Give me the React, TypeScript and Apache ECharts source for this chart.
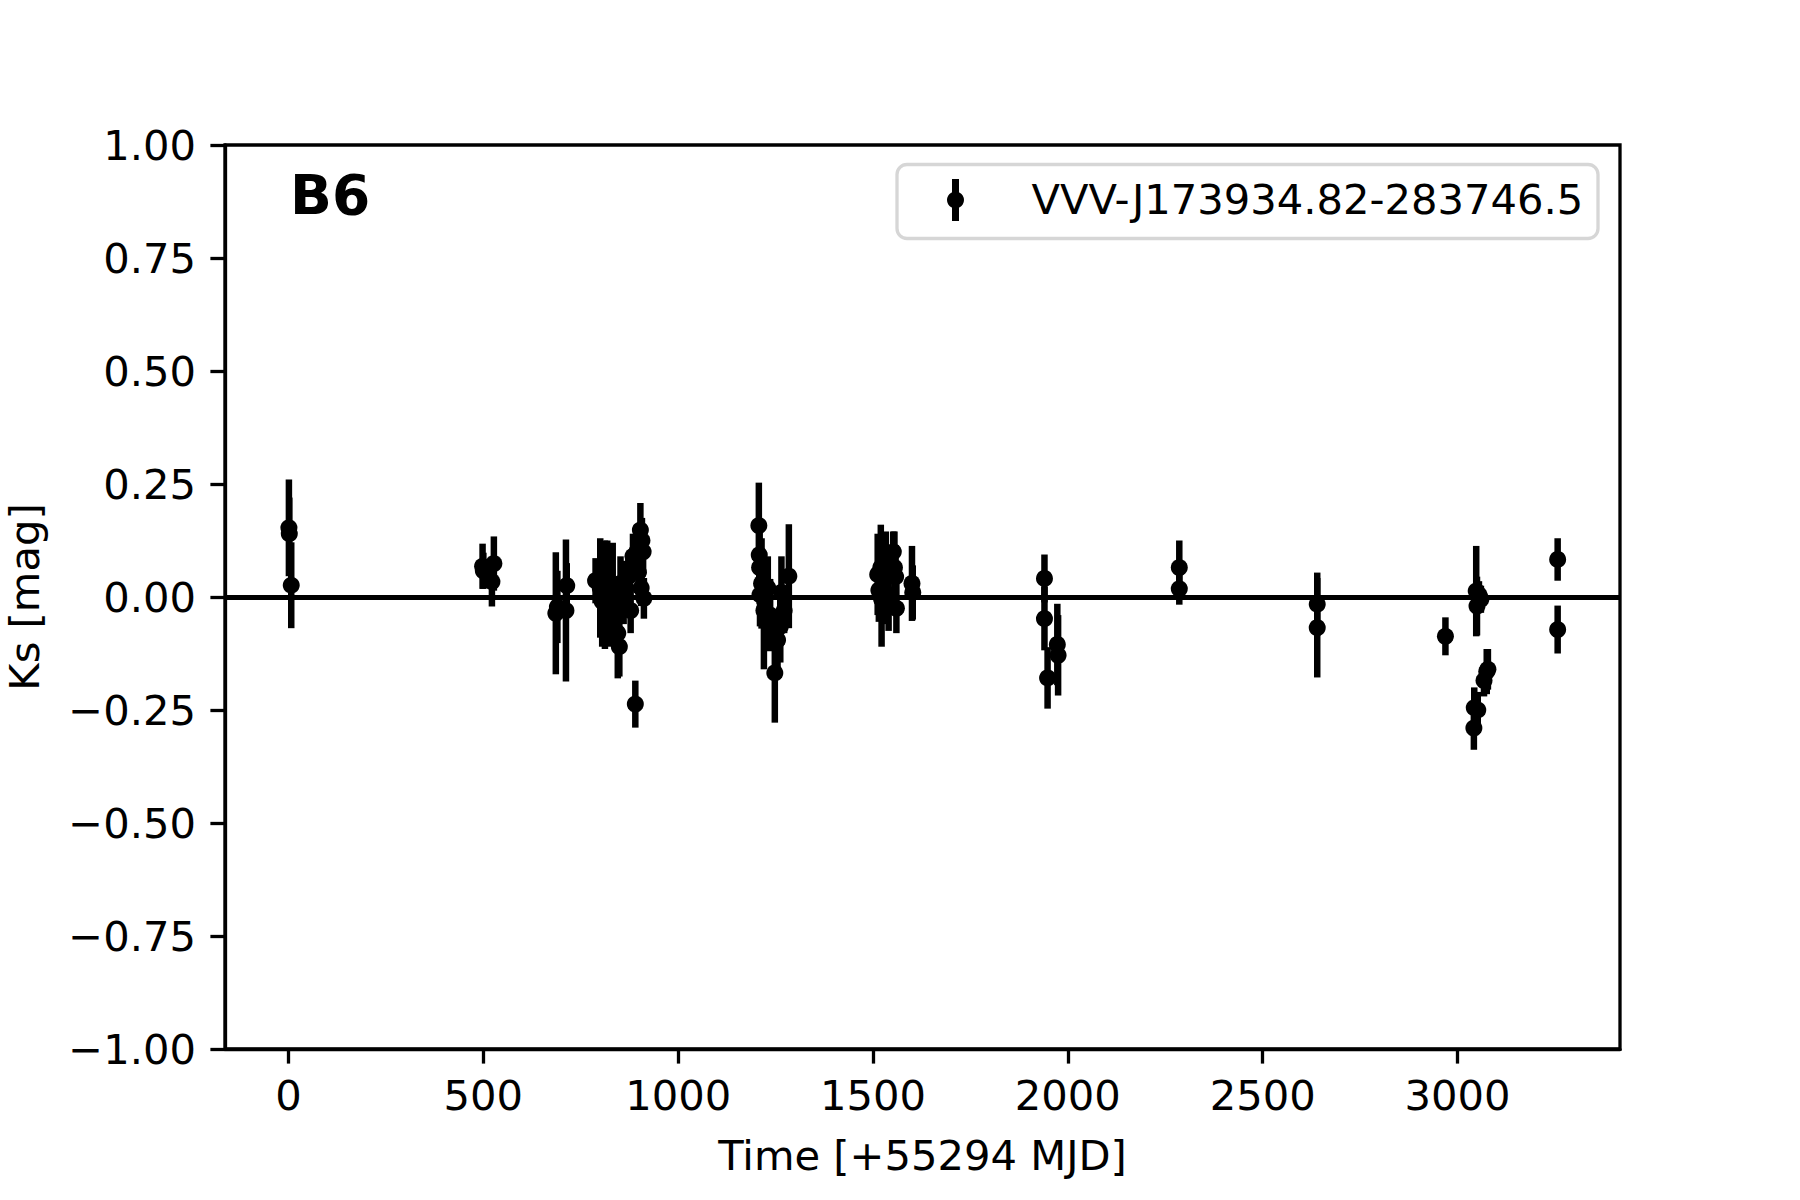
import React, { useEffect, useRef } from "react";
import * as echarts from "echarts";

// Time [+55294 MJD]
const days = [
  1, 2, 7,
  498, 500, 522, 527,
  686, 690, 712, 714,
  788, 800, 805, 812, 818, 825, 832, 838, 845, 849, 852, 860, 866, 872, 878, 884, 890, 894, 898, 903, 905, 907, 910, 912,
  1207, 1208, 1209, 1210, 1214, 1220, 1230, 1236, 1248, 1255, 1262, 1265, 1272, 1284,
  1512, 1515, 1520, 1522, 1528, 1533, 1540, 1552, 1555, 1558, 1560, 1600, 1602,
  1940, 1940, 1948, 1973, 1975,
  2286, 2286,
  2640, 2640,
  2969, 3042, 3043, 3048, 3050, 3052, 3055, 3060, 3068, 3075, 3078,
  3257, 3257,
];
// Ks [mag]
const values = [
  0.153, 0.14, 0.026,
  0.068, 0.058, 0.034, 0.074,
  -0.036, -0.022, -0.03, 0.025,
  0.036, 0.02, -0.01, 0.005, 0.055, -0.02, 0.01, -0.03, -0.08, -0.11, 0.03, -0.01, 0.02, 0.045, -0.03, 0.09, -0.237, 0.1, 0.055, 0.148, 0.02, 0.125, 0.1, -0.003,
  0.158, 0.093, 0.065, 0.005, 0.03, -0.03, 0.02, -0.04, -0.168, -0.095, -0.065, 0.01, -0.03, 0.046,
  0.05, 0.015, 0.065, -0.005, 0.04, 0.075, 0.005, 0.1, 0.065, 0.045, -0.025, 0.03, 0.01,
  0.041, -0.048, -0.179, -0.105, -0.129,
  0.065, 0.018,
  -0.016, -0.068,
  -0.087, -0.29, -0.245, 0.013, -0.02, -0.25, 0.005, -0.005, -0.185, -0.165, -0.16,
  0.083, -0.072,
];
// 1-sigma errors [mag]
const errors = [
  0.107, 0.08, 0.095,
  0.05, 0.04, 0.055, 0.06,
  0.135, 0.08, 0.157, 0.05,
  0.05, 0.11, 0.1, 0.12, 0.07, 0.09, 0.11, 0.07, 0.1, 0.066, 0.06, 0.05, 0.06, 0.05, 0.05, 0.05, 0.052, 0.06, 0.05, 0.06, 0.04, 0.05, 0.05, 0.045,
  0.095, 0.07, 0.08, 0.07, 0.1, 0.13, 0.07, 0.08, 0.11, 0.06, 0.08, 0.08, 0.05, 0.115,
  0.09, 0.07, 0.095, 0.105, 0.1, 0.07, 0.08, 0.045, 0.08, 0.07, 0.055, 0.083, 0.06,
  0.053, 0.07, 0.068, 0.09, 0.089,
  0.06, 0.035,
  0.07, 0.11,
  0.042, 0.048, 0.045, 0.1, 0.065, 0.04, 0.03, 0.03, 0.035, 0.05, 0.045,
  0.047, 0.053,
];

const xTicks = [0, 500, 1000, 1500, 2000, 2500, 3000];
const seriesName = "VVV-J173934.82-283746.5";
const panelLabel = "B6";
const xTitle = "Time [+55294 MJD]";
const yTitle = "Ks [mag]";

const FONT = "DejaVu Sans";
const FS = 41.67;

export default function App() {
  const ref = useRef<HTMLDivElement>(null);
  useEffect(() => {
    const chart = echarts.init(ref.current!, undefined, { renderer: "svg" });
    const pts = days.map((d, i) => [d, values[i], errors[i]]);
    chart.setOption({
      animation: false,
      backgroundColor: "#fff",
      grid: {
        left: 225,
        top: 145,
        width: 1395,
        height: 904,
        show: true,
        borderColor: "#000",
        borderWidth: 3.3,
        backgroundColor: "transparent",
        containLabel: false,
        outerBoundsMode: "none",
      },
      xAxis: {
        type: "value",
        min: -163,
        max: 3417,
        name: xTitle,
        nameLocation: "middle",
        nameGap: 85,
        nameTextStyle: { fontFamily: FONT, fontSize: FS, color: "#000" },
        axisLine: { show: true, onZero: false, lineStyle: { color: "#000", width: 3.3 } },
        axisTick: { show: true, inside: false, length: 14.6, lineStyle: { color: "#000", width: 3.3 }, customValues: xTicks },
        axisLabel: {
          customValues: xTicks,
          margin: 25,
          fontFamily: FONT,
          fontSize: FS,
          color: "#000",
          formatter: (v: number) => String(v),
        },
        splitLine: { show: false },
      },
      yAxis: {
        type: "value",
        min: -1,
        max: 1,
        interval: 0.25,
        name: yTitle,
        nameLocation: "middle",
        nameGap: 180,
        nameRotate: 90,
        nameTextStyle: { fontFamily: FONT, fontSize: FS, color: "#000" },
        axisLine: { show: true, onZero: false, lineStyle: { color: "#000", width: 3.3 } },
        axisTick: { show: true, inside: false, length: 14.6, lineStyle: { color: "#000", width: 3.3 } },
        axisLabel: {
          margin: 29,
          fontFamily: FONT,
          fontSize: FS,
          color: "#000",
          formatter: (v: number) => (v < 0 ? "\u2212" : "") + Math.abs(v).toFixed(2),
        },
        splitLine: { show: false },
      },
      series: [
        {
          type: "custom",
          name: seriesName,
          data: pts,
          encode: { x: 0, y: 1 },
          renderItem: (_params: any, api: any) => {
            const x = api.value(0);
            const y = api.value(1);
            const e = api.value(2);
            const p1 = api.coord([x, y + e]);
            const p2 = api.coord([x, y - e]);
            return {
              type: "line",
              shape: { x1: p1[0], y1: p1[1], x2: p2[0], y2: p2[1] },
              style: { stroke: "#000", lineWidth: 6.5, opacity: 1 },
            };
          },
          z: 2,
        },
        {
          type: "scatter",
          name: seriesName,
          data: pts,
          symbol: "circle",
          symbolSize: 17,
          itemStyle: { color: "#000", opacity: 1 },
          z: 3,
          markLine: {
            silent: true,
            symbol: ["none", "none"],
            label: { show: false },
            lineStyle: { color: "#000", width: 5.2, type: "solid", opacity: 1 },
            data: [{ yAxis: 0 }],
          },
        },
      ],
      graphic: [
        {
          type: "text",
          left: 290,
          top: 167,
          style: { text: panelLabel, fontFamily: FONT, fontSize: 55, fontWeight: "bold", fill: "#000" },
          z: 10,
        },
        {
          type: "rect",
          shape: { x: 897, y: 164.5, width: 701, height: 74, r: 10 },
          style: { fill: "rgba(255,255,255,0.8)", stroke: "#d6d6d6", lineWidth: 3.3 },
          z: 10,
        },
        {
          type: "line",
          shape: { x1: 955.5, y1: 179, x2: 955.5, y2: 221 },
          style: { stroke: "#000", lineWidth: 7 },
          z: 11,
        },
        {
          type: "circle",
          shape: { cx: 955.5, cy: 200, r: 8.5 },
          style: { fill: "#000" },
          z: 11,
        },
        {
          type: "text",
          x: 1031.5,
          y: 199,
          style: {
            text: seriesName,
            fontFamily: FONT,
            fontSize: FS,
            fill: "#000",
            verticalAlign: "middle",
            align: "left",
          },
          z: 11,
        },
      ],
    });
    return () => chart.dispose();
  }, []);
  return (
    <div
      ref={ref}
      style={{ position: "fixed", left: 0, top: 0, width: 1800, height: 1200, background: "#fff" }}
    />
  );
}
